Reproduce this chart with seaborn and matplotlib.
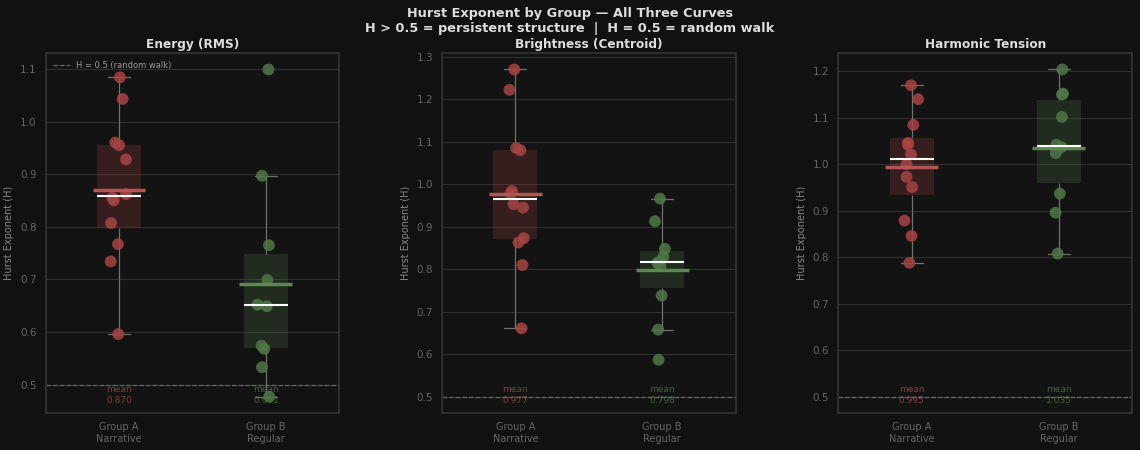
import numpy as np
import pandas as pd
import matplotlib.pyplot as plt
import matplotlib.transforms as mtransforms
import seaborn as sns

# valeurs
panels = ['Energy (RMS)', 'Brightness (Centroid)', 'Harmonic Tension']
groups = ['Group A\nNarrative', 'Group B\nRegular']

energy_a = [1.084, 1.043, 0.960, 0.955, 0.928, 0.862, 0.855, 0.850, 0.807, 0.767, 0.734, 0.596]
energy_b = [1.099, 0.897, 0.765, 0.699, 0.652, 0.649, 0.574, 0.568, 0.533, 0.477]
bright_a = [1.270, 1.222, 1.085, 1.080, 0.984, 0.978, 0.953, 0.945, 0.873, 0.863, 0.810, 0.661]
bright_b = [0.966, 0.913, 0.848, 0.829, 0.818, 0.815, 0.807, 0.738, 0.658, 0.587]
tension_a = [1.170, 1.140, 1.085, 1.046, 1.042, 1.021, 1.000, 0.973, 0.951, 0.879, 0.846, 0.788]
tension_b = [1.204, 1.152, 1.150, 1.102, 1.042, 1.037, 1.024, 0.937, 0.896, 0.808]

series = {
    'Energy (RMS)': (energy_a, energy_b),
    'Brightness (Centroid)': (bright_a, bright_b),
    'Harmonic Tension': (tension_a, tension_b),
}

rows = []
for curve, (a, b) in series.items():
    rows += [(curve, groups[0], v) for v in a]
    rows += [(curve, groups[1], v) for v in b]
df = pd.DataFrame(rows, columns=['curve', 'group', 'H'])

pal = {groups[0]: '#a84343', groups[1]: '#4f7846'}
mean_col = {groups[0]: '#b35555', groups[1]: '#5f8655'}

sns.set_theme(style='dark', rc={
    'figure.facecolor': '#111111',
    'axes.facecolor': '#131313',
    'axes.edgecolor': '#333333',
    'axes.labelcolor': '#888888',
    'xtick.color': '#666666',
    'ytick.color': '#666666',
    'grid.color': '#303030',
    'text.color': '#dddddd',
})
plt.rcParams['font.family'] = ['DejaVu Sans']

np.random.seed(3)
fig, axes = plt.subplots(1, 3, figsize=(11.4, 4.5), dpi=100)

for i, (ax, name) in enumerate(zip(axes, panels)):
    d = df[df.curve == name]
    ax.axhline(0.5, color='#666666', ls='--', lw=0.9, zorder=1,
               label='H = 0.5 (random walk)')
    sns.boxplot(data=d, x='group', y='H', hue='group', order=groups, hue_order=groups,
                palette=pal, width=0.3, showfliers=False, saturation=1, legend=False,
                boxprops=dict(alpha=0.24, linewidth=0),
                whiskerprops=dict(color='#707070', linewidth=0.9),
                capprops=dict(color='#707070', linewidth=0.9),
                medianprops=dict(color='white', linewidth=1.5, zorder=6),
                ax=ax)
    sns.stripplot(data=d, x='group', y='H', hue='group', order=groups, hue_order=groups,
                  palette=pal, jitter=0.06, size=8.5, alpha=0.85, linewidth=0,
                  legend=False, zorder=4, ax=ax)

    trans = mtransforms.blended_transform_factory(ax.transData, ax.transAxes)
    for j, g in enumerate(groups):
        m = d[d.group == g].H.mean()
        ax.hlines(m, j - 0.18, j + 0.18, color=mean_col[g], lw=2.5, zorder=5)
        ax.text(j, 0.05, f'mean\n{m:.3f}', transform=trans, ha='center', va='center',
                fontsize=6.5, color=mean_col[g], alpha=0.65)

    ax.set_xlim(-0.5, 1.5)
    ax.set_title(name, fontsize=8.7, fontweight='bold', color='#dddddd', pad=4)
    ax.set_xlabel('')
    ax.set_ylabel('Hurst Exponent (H)', fontsize=7, color='#888888')
    ax.tick_params(axis='y', labelsize=7.5, colors='#666666', length=3, width=0.6)
    ax.tick_params(axis='x', labelsize=7, colors='#666666', length=3, width=0.6)
    ax.grid(axis='y', lw=0.8)
    for s in ax.spines.values():
        s.set_color('#333333')

leg = axes[0].legend(loc='upper left', fontsize=6, frameon=False, labelcolor='#999999')

fig.suptitle('Hurst Exponent by Group — All Three Curves\n'
             'H > 0.5 = persistent structure  |  H = 0.5 = random walk',
             fontsize=9.3, fontweight='bold', color='#dddddd', y=0.985)
plt.subplots_adjust(left=0.040, right=0.993, bottom=0.082, top=0.882, wspace=0.35)
plt.savefig('out.png', facecolor=fig.get_facecolor())
